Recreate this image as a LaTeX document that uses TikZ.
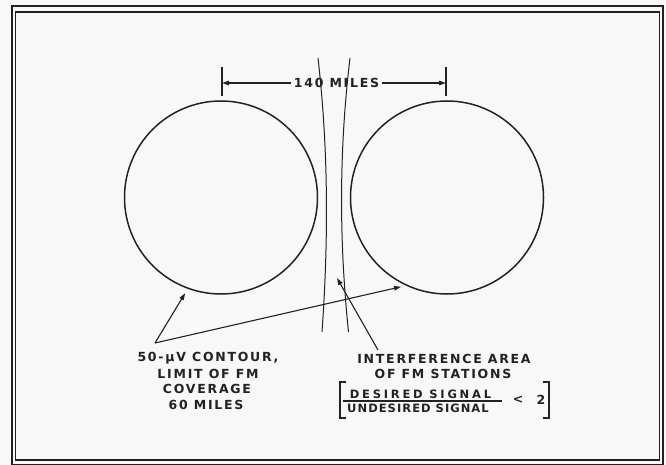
\documentclass[tikz,border=0pt]{standalone}
\usepackage{fontspec}
\usetikzlibrary{arrows.meta}
\newfontfamily\lett[LetterSpace=14]{DejaVu Sans}
\newfontfamily\lettnum[LetterSpace=24]{DejaVu Sans}
\newfontfamily\lettden[LetterSpace=9]{DejaVu Sans}
\definecolor{ink}{HTML}{222222}
\definecolor{paper}{HTML}{F8F8F8}
\begin{document}
\begin{tikzpicture}[x=1pt,y=-1pt,
  lbl/.style={font=\lett\bfseries\fontsize{12.5}{14}\selectfont, inner sep=0pt, text=ink},
  numlbl/.style={font=\lettnum\bfseries\fontsize{11.5}{12}\selectfont, inner sep=0pt, text=ink},
  denlbl/.style={font=\lettden\bfseries\fontsize{11.5}{12}\selectfont, inner sep=0pt, text=ink},
  ln/.style={line width=1.1pt, draw=ink},
  arr/.style={ln, -{Triangle[length=7pt,width=4.5pt]}},
  ring/.style={circle, draw=ink, line width=1.5pt, minimum size=193pt, inner sep=0pt}]
\fill[paper] (0,0) rectangle (666,465);
\useasboundingbox (0,0) rectangle (666,465);
% frame
\draw[ink, line width=2.6pt] (12,6) rectangle (663,465);
\draw[ink, line width=1.2pt] (15.5,12) rectangle (659.5,460);
% circles
\node[ring] (L) at (221,197.5) {};
\node[ring] (R) at (447,197.5) {};
% interference strip
\draw[ink, line width=1pt] (318,58) .. controls (328.5,150) and (328.5,240) .. (322,332);
\draw[ink, line width=1pt] (350,58) .. controls (339,150) and (339,240) .. (348.5,332);
% dimension
\coordinate (tl1) at (222,67); \coordinate (tl2) at (222,96);
\coordinate (tr1) at (446,67); \coordinate (tr2) at (446,96);
\draw[ln] (tl1) -- (tl2);
\draw[ln] (tr1) -- (tr2);
\node[lbl] (dim) at (336.5,83) {140 MILES};
\coordinate (dl) at (222,83); \coordinate (dr) at (446,83);
\draw[arr] (dim.west) ++(-3,0) -- (dl);
\draw[arr] (dim.east) ++(3,0) -- (dr);
% left label
\node[lbl] (c1) at (208,358) {50-μV CONTOUR,};
\node[lbl] (c2) at (208,373.5) {LIMIT OF FM};
\node[lbl] (c3) at (207,389) {COVERAGE};
\node[lbl] (c4) at (206,405) {60 MILES};
\coordinate (cs) at (155,343);
\draw[arr, shorten >=5pt] (cs) -- (L.250);
\draw[arr, shorten >=5pt] (cs) -- (R.245);
% right label
\node[lbl] (i1) at (444,358.5) {INTERFERENCE AREA};
\node[lbl] (i2) at (443,374) {OF FM STATIONS};
\node[numlbl] (num) at (420.5,394) {DESIRED SIGNAL};
\node[denlbl] (den) at (418,408.5) {UNDESIRED SIGNAL};
\coordinate (fl1) at (343,401); \coordinate (fl2) at (502,401);
\draw[ink, line width=1.3pt] (fl1) -- (fl2);
\node[lbl] (lt) at (518,400) {<};
\node[lbl] (two) at (541,400) {2};
\draw[ln] (346,382) -- (340,382) -- (340,418) -- (346,418);
\draw[ln] (543,382) -- (549,382) -- (549,418) -- (543,418);
\coordinate (is) at (378,350);
\coordinate (it) at (337,278);
\draw[arr] (is) -- (it);
\end{tikzpicture}
\end{document}
